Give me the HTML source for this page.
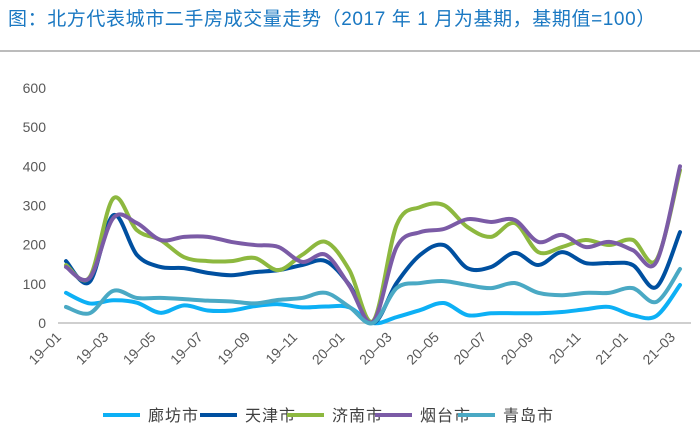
<!DOCTYPE html>
<html><head><meta charset="utf-8"><style>
body{margin:0;background:#fff;}
#c{position:relative;width:700px;height:431px;overflow:hidden;font-family:"Liberation Sans","Noto Sans CJK SC",sans-serif;}
</style></head><body>
<div id="c">
<svg id="s" width="700" height="431" xmlns="http://www.w3.org/2000/svg">
<text x="8" y="25" font-size="19" letter-spacing="0.6" fill="#1A78C2" font-family="Liberation Sans, Noto Sans CJK SC, sans-serif">图：北方代表城市二手房成交量走势（2017 年 1 月为基期，基期值=100）</text>
<line x1="0" y1="51" x2="700" y2="51" stroke="#a6a6a6" stroke-width="1.5"/>
<g id="yax"></g>
<g id="xax"></g>
<g id="lines"></g>
<g id="legend"></g>
</svg>
</div>
<script>
const categories=["19-01","19-02","19-03","19-04","19-05","19-06","19-07","19-08","19-09","19-10","19-11","19-12","20-01","20-02","20-03","20-04","20-05","20-06","20-07","20-08","20-09","20-10","20-11","20-12","21-01","21-02","21-03"];
const langfang=[77,50,58,52,26,45,32,32,43,48,40,42,40,0,15,33,51,20,25,25,25,28,35,41,20,18,97];
const tianjin=[158,105,275,174,143,140,128,122,130,135,148,158,97,0,102,174,199,140,143,179,148,181,153,153,148,92,232];
const jinan=[148,117,318,237,212,168,158,158,166,135,174,207,135,5,250,296,301,245,220,255,181,194,212,199,212,161,390];
const yantai=[143,115,268,255,212,220,220,207,199,194,156,174,95,3,194,232,240,265,258,263,207,225,194,207,186,156,400];
const qingdao=[41,25,82,64,64,61,57,55,50,59,64,77,41,0,89,102,107,97,89,102,77,71,77,77,89,54,138];
const seriesNames=["廊坊市","天津市","济南市","烟台市","青岛市"];
const yTicks=[0,100,200,300,400,500,600];
const xTickLabels=["19-01","19-03","19-05","19-07","19-09","19-11","20-01","20-03","20-05","20-07","20-09","20-11","21-01","21-03"];
const seriesData=[langfang,tianjin,jinan,yantai,qingdao];
const colors=["#0DB0F5","#0050A0","#8DB83F","#7B5BA6","#4AA9C4"];
const slugs=["langfang","tianjin","jinan","yantai","qingdao"];
const NS="http://www.w3.org/2000/svg";
function x(i){return 66+i*(680-66)/26;}
function y(v){return 323-v*0.3917;}
function mk(t,a,p){const e=document.createElementNS(NS,t);for(const k in a)e.setAttribute(k,a[k]);p.appendChild(e);return e;}
const yax=document.getElementById('yax');
yTicks.forEach(v=>{const t=mk('text',{x:46,y:y(v)+5,'text-anchor':'end','font-size':14,fill:'#595959'},yax);t.textContent=v;

});
const xax=document.getElementById('xax');
const ax=mk('line',{x1:58,y1:323,x2:691,y2:323,stroke:'#bfbfbf','stroke-width':1.5},xax);


xTickLabels.forEach(l=>{const i=categories.indexOf(l);const px=x(i)-4,py=338;
const t=mk('text',{x:px,y:py,'text-anchor':'end','font-size':14,fill:'#595959',transform:`rotate(-45 ${px} ${py})`},xax);t.textContent=l.replace('-','–');

});
const lines=document.getElementById('lines');
function path(d){const p=d.map((v,i)=>[x(i),y(v)]);let s=`M${p[0][0]},${p[0][1]}`;
for(let i=0;i<p.length-1;i++){const p0=p[Math.max(0,i-1)],p1=p[i],p2=p[i+1],p3=p[Math.min(p.length-1,i+2)];const k=1/6;
s+=` C${p1[0]+(p2[0]-p0[0])*k},${p1[1]+(p2[1]-p0[1])*k} ${p2[0]-(p3[0]-p1[0])*k},${p2[1]-(p3[1]-p1[1])*k} ${p2[0]},${p2[1]}`;}return s;}
seriesData.forEach((d,j)=>{const e=mk('path',{d:path(d),fill:'none',stroke:colors[j],'stroke-width':4,'stroke-linejoin':'round','stroke-linecap':'round'},lines);

});
const lg=document.getElementById('legend');
const lx=[103,200,287,375,458];
seriesNames.forEach((n,j)=>{const g=mk('g',{},lg);


mk('line',{x1:lx[j],y1:415,x2:lx[j]+37,y2:415,stroke:colors[j],'stroke-width':4},g);
const t=mk('text',{x:lx[j]+45,y:421,'font-size':16,'letter-spacing':1,fill:'#404040'},g);t.textContent=n;});
</script>
</body></html>
